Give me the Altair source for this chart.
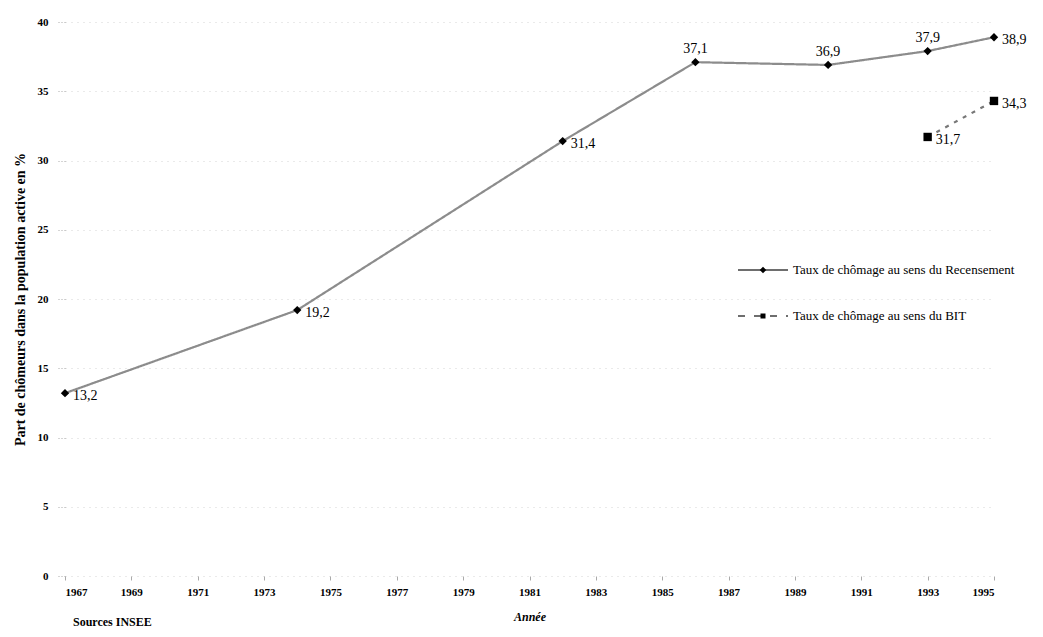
import altair as alt
import pandas as pd

# ---- data ----
series_names = ["Taux de chômage au sens du Recensement", "Taux de chômage au sens du BIT"]
legend_line_keys = ["ligne recensement", "ligne BIT"]

rec_years = [1967, 1974, 1982, 1986, 1990, 1993, 1995]
rec_values = [13.2, 19.2, 31.4, 37.1, 36.9, 37.9, 38.9]
rec_label_above = [False, False, False, True, True, True, False]

bit_years = [1993, 1995]
bit_values = [31.7, 34.3]
bit_label_above = [False, False]

x_ticks = [1967, 1969, 1971, 1973, 1975, 1977, 1979, 1981, 1983, 1985, 1987, 1989, 1991, 1993, 1995]
y_ticks = [0, 5, 10, 15, 20, 25, 30, 35, 40]

rows = []
for yr, v, ab in zip(rec_years, rec_values, rec_label_above):
    rows.append({"annee": yr, "taux": v, "serie": series_names[0], "above": ab, "key": legend_line_keys[0]})
for yr, v, ab in zip(bit_years, bit_values, bit_label_above):
    rows.append({"annee": yr, "taux": v, "serie": series_names[1], "above": ab, "key": legend_line_keys[1]})
df = pd.DataFrame(rows)
df["lab"] = df["taux"].map(lambda v: f"{v:.1f}".replace(".", ","))

FONT = "Liberation Serif"

x_enc = alt.X("annee:Q",
              scale=alt.Scale(domain=[1967, 1995], nice=False, zero=False),
              axis=alt.Axis(values=x_ticks, format="d", title="Année",
                            titleFontStyle="italic", titleFontWeight="bold",
                            titleFontSize=12, titlePadding=14,
                            labelFontSize=11, labelFontWeight="bold",
                            labelPadding=6, tickSize=4, tickColor="#aaaaaa",
                            domain=False, grid=False))
y_enc = alt.Y("taux:Q",
              scale=alt.Scale(domain=[0, 40], nice=False),
              axis=alt.Axis(values=y_ticks, format="d",
                            title="Part de chômeurs dans la population active en %",
                            titleFontWeight="bold", titleFontSize=14, titlePadding=10,
                            labelFontSize=11, labelFontWeight="bold", labelPadding=10,
                            tickSize=7, tickColor="#aaaaaa", tickDash=[1, 2],
                            domain=False, grid=True, gridColor="#cccccc",
                            gridDash=[1, 5], gridOpacity=0.8))

base = alt.Chart(df)

lines = base.mark_line(strokeWidth=2.2).encode(
    x=x_enc, y=y_enc,
    color=alt.Color("serie:N", scale=alt.Scale(domain=series_names, range=["#8c8c8c", "#777777"]), legend=None),
    strokeDash=alt.StrokeDash("serie:N", scale=alt.Scale(domain=series_names, range=[[1, 0], [4, 6]]), legend=None),
    detail="serie:N",
)

points = base.mark_point(filled=True, color="black", size=70, opacity=1).encode(
    x="annee:Q", y="taux:Q",
    shape=alt.Shape("serie:N", scale=alt.Scale(domain=series_names, range=["diamond", "square"]), legend=None),
)

# legend (lines part): empty layer, only its legend is drawn
legend_lines = base.transform_filter("false").mark_line(color="#6e6e6e", strokeWidth=2).encode(
    x="annee:Q", y="taux:Q",
    strokeDash=alt.StrokeDash("key:N",
                              scale=alt.Scale(domain=legend_line_keys, range=[[1, 0], [7, 9]]),
                              legend=alt.Legend(title=None, orient="none", legendX=672, legendY=222,
                                                symbolType="stroke", symbolSize=2500,
                                                symbolStrokeWidth=2, symbolStrokeColor="#6e6e6e",
                                                labelFontSize=13, labelExpr="''",
                                                labelOffset=4, rowPadding=13, labelLimit=400,
                                                zindex=1)),
)

diamond_path = "M0,-0.13L0.13,0L0,0.13L-0.13,0Z"
square_path = "M-0.1,-0.1L0.1,-0.1L0.1,0.1L-0.1,0.1Z"

legend_marks = base.transform_filter("false").mark_point(
    filled=True, color="black", opacity=1
).encode(
    x="annee:Q", y="taux:Q",
    shape=alt.Shape("serie:N",
                    scale=alt.Scale(domain=series_names, range=[diamond_path, square_path]),
                    legend=alt.Legend(title=None, orient="none", legendX=672, legendY=222,
                                      symbolSize=2500, symbolFillColor="black",
                                      labelFont=FONT, labelFontSize=13, labelColor="black",
                                      labelOffset=4, rowPadding=13, labelLimit=400,
                                      zindex=2)),
)

labels_right = base.transform_filter("!datum.above").mark_text(
    align="left", baseline="middle", dx=8, dy=3, font=FONT, fontSize=14, color="black"
).encode(x="annee:Q", y="taux:Q", text="lab:N")

labels_above = base.transform_filter("datum.above").mark_text(
    align="center", baseline="bottom", dy=-6, font=FONT, fontSize=14, color="black"
).encode(x="annee:Q", y="taux:Q", text="lab:N")

chart = alt.layer(lines, points, labels_right, labels_above, legend_lines, legend_marks).resolve_scale(
    shape="independent", strokeDash="independent"
).properties(
    width=929, height=554,
    padding={"left": 57, "top": 14, "right": 40, "bottom": 58},
    autosize=alt.AutoSizeParams(type="none"),
    title=alt.TitleParams("Sources  INSEE", orient="bottom", anchor="start", frame="group",
                          font=FONT, fontSize=12, fontWeight="bold", dx=8, offset=-5),
).configure(font=FONT).configure_view(stroke=None).configure_axis(
    labelFont=FONT, titleFont=FONT, labelColor="black", titleColor="black"
).configure_legend(labelFont=FONT)

chart.save("out.html", embed_options={"renderer": "svg", "actions": False})
